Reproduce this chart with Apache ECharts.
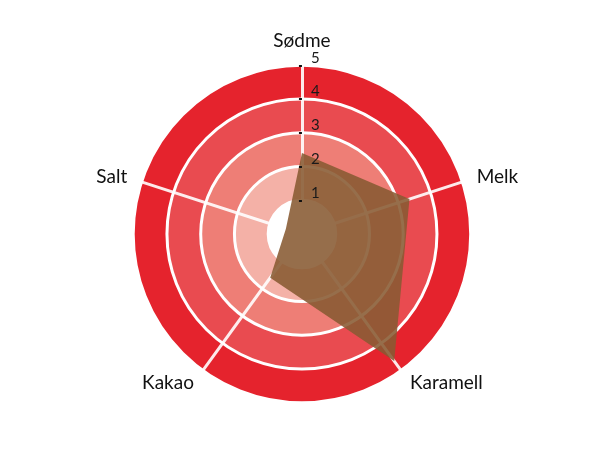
<!DOCTYPE html>
<html>
<head>
<meta charset="utf-8">
<script src="https://cdn.jsdelivr.net/npm/echarts@6/dist/echarts.min.js"></script>
<style>
html,body{margin:0;padding:0;background:#fff;}
#c{width:610px;height:450px;}
</style>
</head>
<body>
<div id="c"></div>
<script>
// Order as read clockwise from the top
const indicatorNames = ['Sødme', 'Melk', 'Karamell', 'Kakao', 'Salt'];
const maxValue = 5;
const tasteValues = [2.4, 3.35, 4.65, 1.6, 0.5];
const ringColors = ['#ffffff', '#F4B1A7', '#EE7E76', '#E94B50', '#E5232D'];

// ECharts lays out indicators counter-clockwise; reverse all but the first to go clockwise
const order = [0].concat(indicatorNames.slice(1).map((_, i) => indicatorNames.length - 1 - i));

const baseIndicators = order.map(idx => ({ name: indicatorNames[idx], min: 0, max: maxValue }));
const overlayIndicators = order.map((idx, i) => {
  const o = { name: indicatorNames[idx], min: 0, max: maxValue };
  if (i === 0) {
    o.axisLabel = { show: true, showMinLabel: false, color: '#1a1a1a', fontSize: 15, fontFamily: 'Lato', margin: -9, align: 'left', verticalAlign: 'bottom' };
    o.axisTick = { show: true, length: 3, lineStyle: { color: '#111', width: 2 } };
  }
  return o;
});
const values = order.map(idx => tasteValues[idx]);

const common = {
  center: ['49.5%', '52%'],
  radius: '75%',
  shape: 'circle',
  startAngle: 90,
  splitNumber: 5
};

const chart = echarts.init(document.getElementById('c'), null, { renderer: 'canvas' });
chart.setOption({
  animation: false,
  radar: [
    Object.assign({}, common, {
      z: 1,
      indicator: baseIndicators,
      axisName: { color: '#111', fontSize: 19, fontFamily: 'Lato' },
      nameGap: 15,
      axisLine: { lineStyle: { color: 'rgba(255,255,255,0.9)', width: 3 } },
      splitLine: { lineStyle: { color: '#ffffff', width: 3 } },
      splitArea: { show: true, areaStyle: { color: ringColors, opacity: 1 } },
      axisTick: { show: false },
      axisLabel: { show: false }
    }),
    Object.assign({}, common, {
      z: 5,
      indicator: overlayIndicators,
      axisName: { show: false },
      axisLine: { show: false },
      splitLine: { show: false },
      splitArea: { show: false },
      axisTick: { show: false },
      axisLabel: { show: false }
    })
  ],
  series: [{
    type: 'radar',
    radarIndex: 0,
    z: 2,
    symbol: 'none',
    lineStyle: { width: 0 },
    areaStyle: { color: 'rgba(135,90,50,0.88)', opacity: 1 },
    data: [{ value: values }]
  }]
});
</script>
</body>
</html>
